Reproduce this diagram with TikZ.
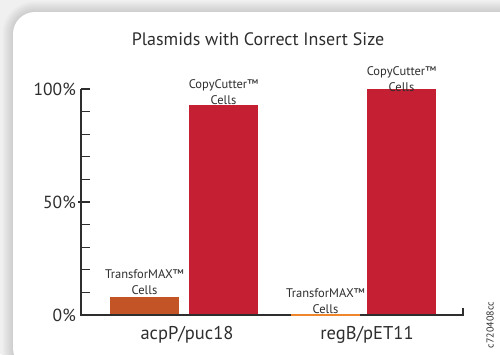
\documentclass[tikz,border=0pt]{standalone}
\usepackage{fontspec}
\setmainfont{PT Sans}
\usetikzlibrary{positioning}
\definecolor{cutred}{HTML}{C41F32}
\definecolor{maxorange}{HTML}{C25426}
\definecolor{lineorange}{HTML}{F0862C}
\definecolor{inkgray}{HTML}{2E2E2E}
\tikzset{
  barlabel/.style={text=inkgray,align=center,font=\fontsize{12.5}{16}\selectfont,inner sep=0pt},
  ticklabel/.style={text=inkgray,anchor=east,font=\fontsize{17.5}{20}\selectfont,inner sep=0pt},
  grouplabel/.style={text=inkgray,font=\fontsize{18.5}{20}\selectfont,inner sep=0pt},
  axisline/.style={line width=1.2pt,draw=inkgray}
}
\begin{document}
\begin{tikzpicture}[x=1pt,y=-1pt,declare function={yv(\p)=315-2.26*\p;}]
\useasboundingbox (0,0) rectangle (500,354);
% shadow and card
\fill[black!6] (0,0) rectangle (500,354);
\foreach \i [evaluate=\i as \g using {20-1.2*\i}, evaluate=\i as \r using {22+\i}] in {12,11,...,1}{
  \fill[black!\g,rounded corners=\r pt] ({13-\i},{12-\i}) rectangle ({520+\i},{370+\i});
}
\fill[white,rounded corners=22pt] (13,12) rectangle (520,370);
\node[text=inkgray,font=\fontsize{18}{20}\selectfont] (title) at (258,39) {Plasmids with Correct Insert Size};
% bars
\foreach \name/\xl/\val/\col in {maxA/110/8/maxorange, cutA/189/93/cutred, cutB/367/100/cutred}{
  \fill[\col] (\xl,315) rectangle ++(69,{-2.26*\val}) coordinate (\name);
}
% axes
\draw[axisline] (81,89) -- (81,315) -- (463,315) -- (463,308);
\foreach \p in {10,20,...,100}{
  \draw[axisline] (81,{yv(\p)}) -- (90,{yv(\p)});
}
\draw[axisline] (78,{yv(50)}) -- (81,{yv(50)});
\draw[lineorange,line width=2.6pt] (291,315) coordinate (maxB0) -- (360,315) coordinate (maxB);
\foreach \p/\t in {0/0,50/50,100/100}{
  \node[ticklabel] (tick\t) at (76,{yv(\p)}) {\t\%};
}
% labels
\node[barlabel,anchor=south] (lblMaxA) at (144.5,295) {TransforMAX™\\Cells};
\node[barlabel,anchor=south] (lblCutA) at (223.5,105) {CopyCutter™\\Cells};
\node[barlabel,anchor=south] (lblMaxB) at (325.5,314) {TransforMAX™\\Cells};
\node[barlabel,anchor=south] (lblCutB) at (401.5,92) {CopyCutter™\\Cells};
\node[grouplabel] (grpA) at (187,335) {acpP/puc18};
\node[grouplabel] (grpB) at (367,335) {regB/pET11};
\node[text=inkgray,rotate=90,font=\fontsize{10}{11}\selectfont] (code) at (490,325) {c720408cc};
\end{tikzpicture}
\end{document}
